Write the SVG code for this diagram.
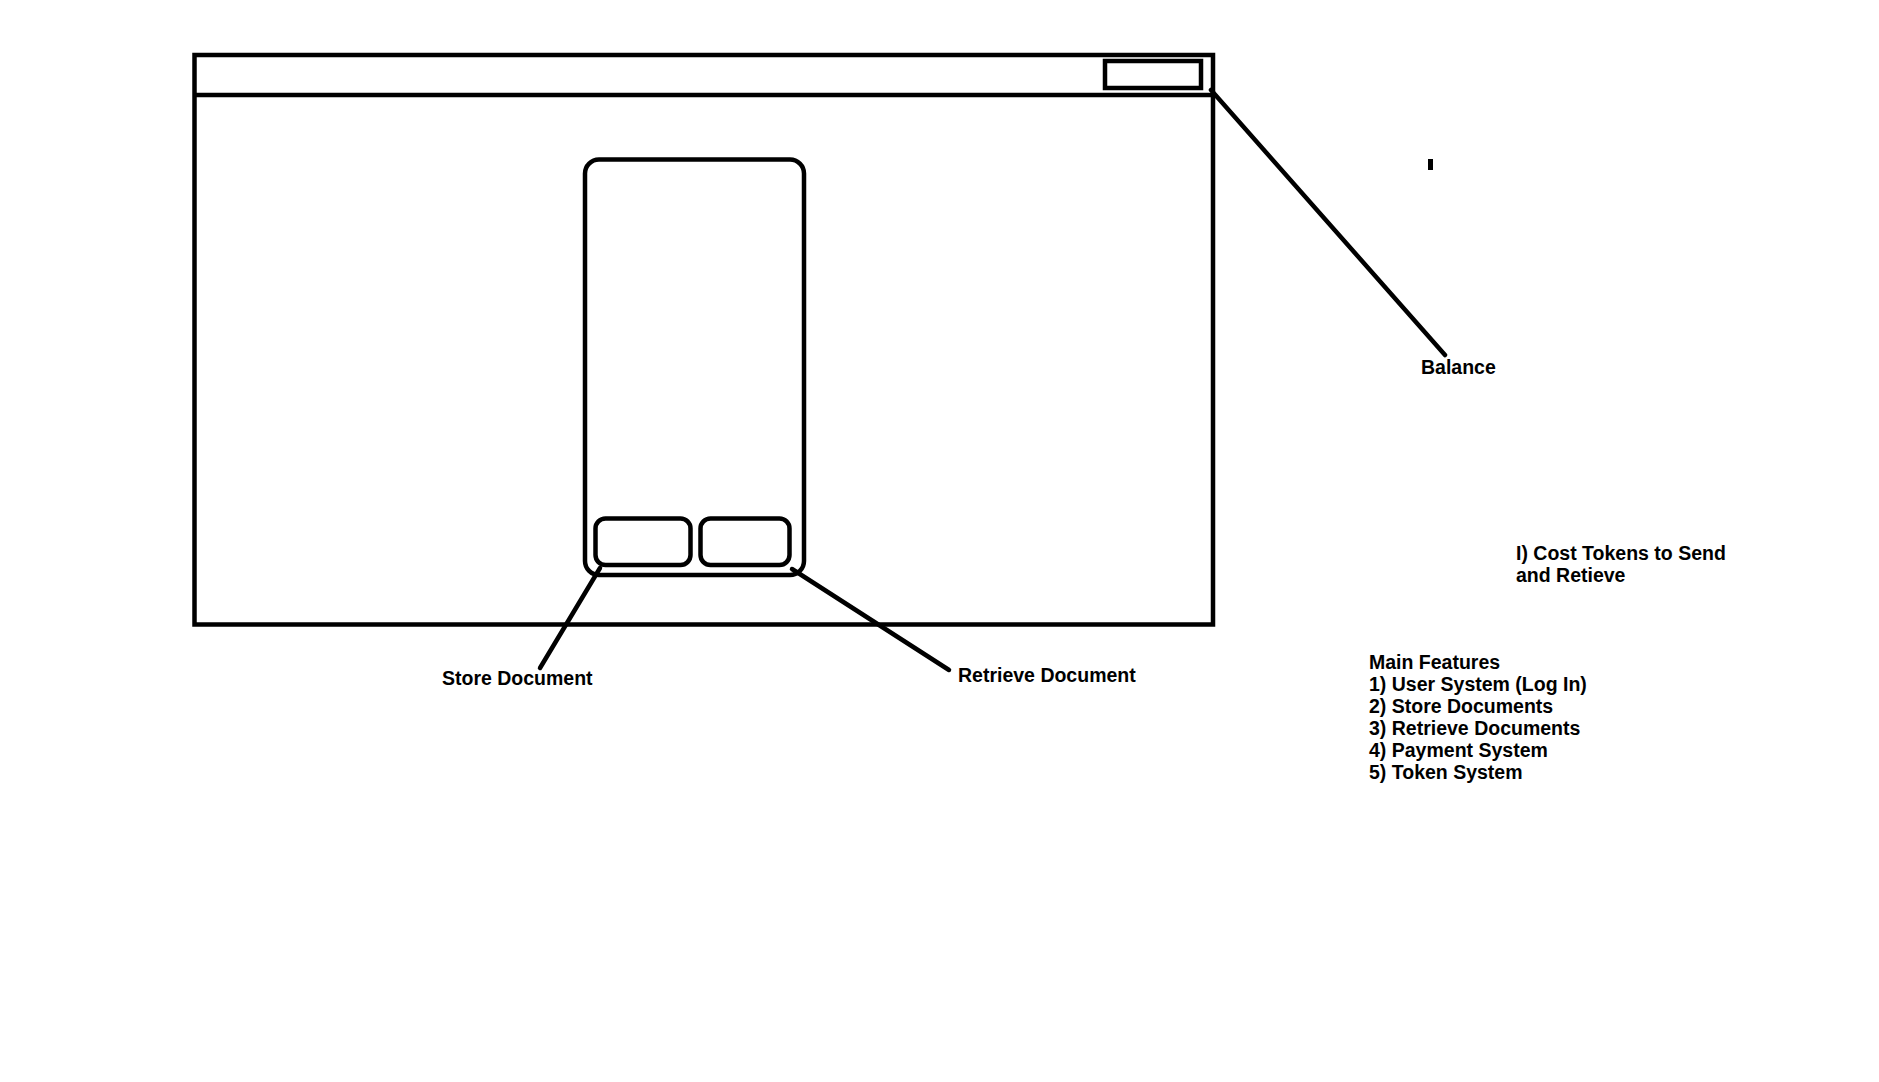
<svg xmlns="http://www.w3.org/2000/svg" width="1879" height="1082" viewBox="0 0 1879 1082">
  <style>
    .shape { fill: none; stroke: #000; stroke-width: 4.5; }
    .conn { fill: none; stroke: #000; stroke-width: 4.5; stroke-linecap: round; }
    .lbl { font-family: "Liberation Sans", Arial, sans-serif; font-weight: bold; font-size: 19.5px; fill: #000; }
  </style>
  <rect x="0" y="0" width="1879" height="1082" fill="#fff"/>
  <g id="window">
    <rect class="shape" x="194.5" y="55" width="1018.5" height="569.5"/>
    <line class="shape" x1="194.5" y1="95" x2="1213" y2="95"/>
  </g>
  <g id="balance-box">
    <rect class="shape" x="1105" y="61" width="96" height="27" stroke-width="5"/>
  </g>
  <g id="phone">
    <rect class="shape" x="585" y="159.5" width="219" height="415.5" rx="14" ry="14"/>
  </g>
  <g id="store-button">
    <rect class="shape" x="595.5" y="518.5" width="95" height="46.5" rx="10" ry="10"/>
  </g>
  <g id="retrieve-button">
    <rect class="shape" x="700.5" y="518.5" width="89" height="46.5" rx="10" ry="10"/>
  </g>
  <g id="mark">
    <rect x="1428" y="159" width="5" height="11" fill="#000"/>
  </g>
  <g id="connectors">
    <line class="conn" x1="1211" y1="90" x2="1445" y2="355"/>
    <line class="conn" x1="600" y1="568" x2="540" y2="668"/>
    <line class="conn" x1="792" y1="569" x2="949" y2="670"/>
  </g>
  <g id="labels">
    <text class="lbl" x="1421" y="374">Balance</text>
    <text class="lbl" x="442" y="685">Store Document</text>
    <text class="lbl" x="958" y="682">Retrieve Document</text>
    <text class="lbl" x="1516" y="560">I) Cost Tokens to Send</text>
    <text class="lbl" x="1516" y="582">and Retieve</text>
    <text class="lbl" x="1369" y="669">Main Features</text>
    <text class="lbl" x="1369" y="691">1) User System (Log In)</text>
    <text class="lbl" x="1369" y="713">2) Store Documents</text>
    <text class="lbl" x="1369" y="735">3) Retrieve Documents</text>
    <text class="lbl" x="1369" y="757">4) Payment System</text>
    <text class="lbl" x="1369" y="779">5) Token System</text>
  </g>
</svg>
